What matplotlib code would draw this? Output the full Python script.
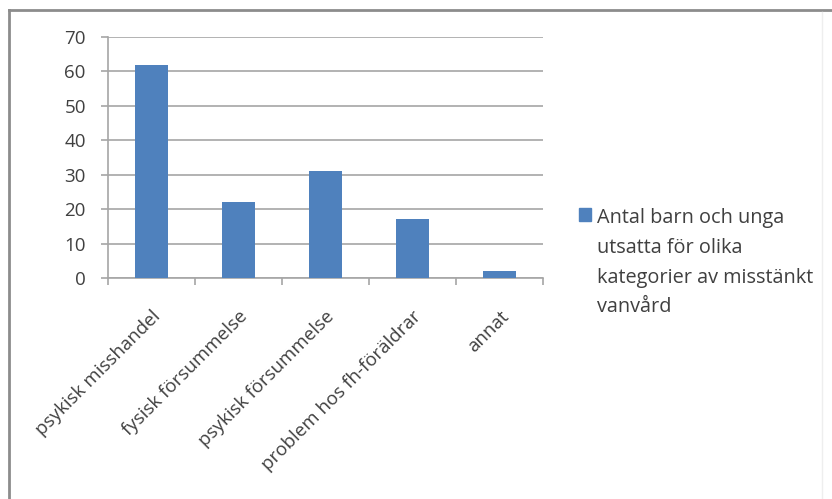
import matplotlib
matplotlib.use("Agg")
import matplotlib.pyplot as plt
from matplotlib.lines import Line2D
from matplotlib.patches import Patch
import numpy as np

# data
categories = ["psykisk misshandel", "fysisk försummelse", "psykisk försummelse",
              "problem hos fh-föräldrar", "annat"]
counts = [62, 22, 31, 17, 2]
yticks = [0, 10, 20, 30, 40, 50, 60, 70]
legend_label = "Antal barn och unga\nutsatta för olika\nkategorier av misstänkt\nvanvård"

bar_color = "#4F81BD"
grid_color = "#A6A6A6"
text_color = "#404040"

plt.rcParams["font.family"] = ["Open Sans", "DejaVu Sans"]

fig = plt.figure(figsize=(8.32, 4.99), dpi=100)
ax = fig.add_axes([0.1298, 0.4429, 0.5228, 0.4830])

x = np.arange(len(categories))
bars = ax.bar(x, counts, width=0.38, color=bar_color, zorder=3)

ax.set_xlim(-0.5, len(categories) - 0.5)
ax.set_ylim(0, 70)
ax.set_yticks(yticks)
ax.yaxis.grid(True, color=grid_color, linewidth=1.2, zorder=0)

for s in ["top", "right"]:
    ax.spines[s].set_visible(False)
for s in ["left", "bottom"]:
    ax.spines[s].set_color(grid_color)
    ax.spines[s].set_linewidth(1.2)

ax.tick_params(axis="y", colors=grid_color, length=5, width=1.2, labelsize=13.5,
               labelcolor=text_color, pad=11)

# category labels at centres, tick marks at category boundaries
ax.set_xticks(x)
ax.set_xticklabels(categories, rotation=45, ha="right", rotation_mode="anchor",
                   fontsize=13.5, color=text_color)
ax.tick_params(axis="x", which="major", length=0, pad=21)
ax.set_xticks(np.arange(-0.5, len(categories)), minor=True)
ax.tick_params(axis="x", which="minor", length=5, width=1.2, colors=grid_color)

leg = ax.legend([Patch(color=bar_color)], [legend_label],
                loc="upper left", bbox_to_anchor=(1.083, 0.29), frameon=False,
                fontsize=14.3, handlelength=0.6, handleheight=0.6,
                handletextpad=0.3, borderpad=0, borderaxespad=0)
for t in leg.get_texts():
    t.set_color(text_color)
    t.set_linespacing(1.65)
# put the square beside the first line instead of the middle of the block
for col in leg._legend_handle_box.get_children():
    for item in col.get_children():
        item.align = "top"

# outer chart frame (top and left edges visible in the crop)
fig.add_artist(Line2D([0.011, 0.011], [0, 0.98], transform=fig.transFigure,
                      color="#8C8C8C", linewidth=2))
fig.add_artist(Line2D([0.011, 1.0], [0.98, 0.98], transform=fig.transFigure,
                      color="#8C8C8C", linewidth=2))
fig.add_artist(Line2D([0.988, 0.988], [0, 0.975], transform=fig.transFigure,
                      color="#EEEEEE", linewidth=1))

fig.savefig("out.png", dpi=100)
